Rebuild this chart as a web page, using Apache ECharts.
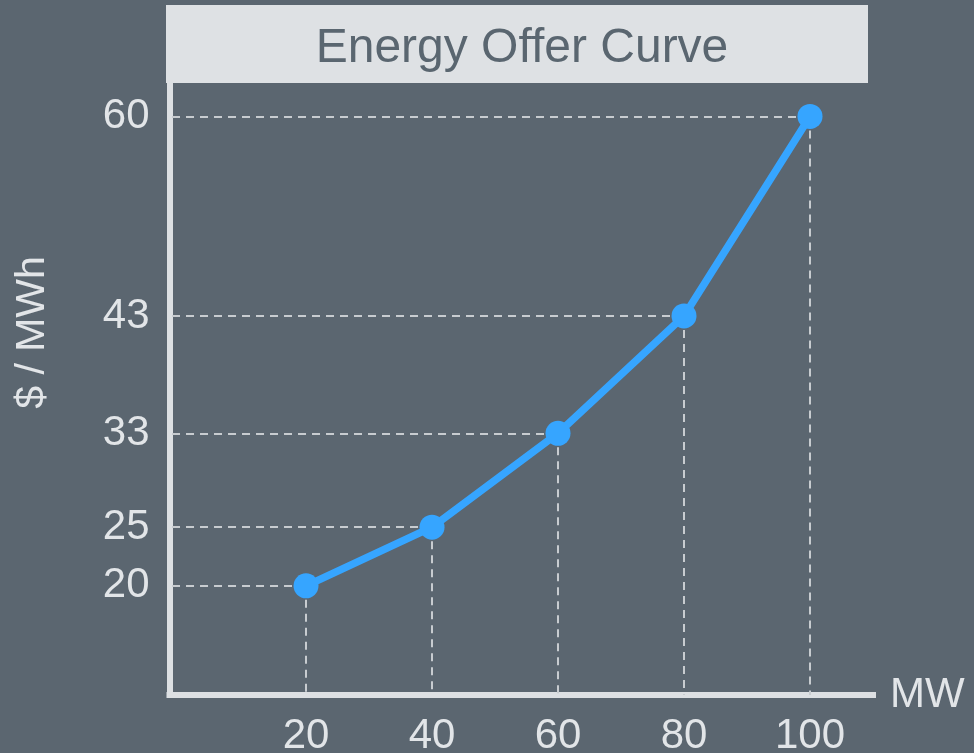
<!DOCTYPE html>
<html>
<head>
<meta charset="utf-8">
<script src="https://cdn.jsdelivr.net/npm/echarts@6/dist/echarts.min.js"></script>
<style>
html,body{margin:0;padding:0;background:#5b6670;}
#c{width:974px;height:753px;}
</style>
</head>
<body>
<div id="c"></div>
<script>
// Data
const titleText = 'Energy Offer Curve';
const xName = 'MW';
const yName = '$ / MWh';
const mw = [20, 40, 60, 80, 100];
const price = [20, 25, 33, 43, 60];

const xMin = -1.67, xMax = 110;
const yMin = 10.7, yMax = 62.85;

const labelColor = '#e2e5e8';
const font = 'Liberation Sans, Arial, sans-serif';

const seriesData = mw.map((x, i) => [x, price[i]]);
const dropLines = [];
mw.forEach((x, i) => {
  dropLines.push([{ coord: [x, price[i]] }, { coord: [xMin, price[i]] }]);
  dropLines.push([{ coord: [x, price[i]] }, { coord: [x, yMin] }]);
});

const chart = echarts.init(document.getElementById('c'), null, { renderer: 'canvas' });
chart.setOption({
  backgroundColor: '#5b6670',
  animation: false,
  graphic: [{
    type: 'rect', z: 0,
    shape: { x: 166, y: 5, width: 702, height: 78 },
    style: { fill: '#dee1e4' }
  }],
  title: {
    text: titleText,
    left: 517, top: 20,
    textAlign: 'center',
    textStyle: { color: '#5a6670', fontSize: 48, fontWeight: 'normal', fontFamily: font }
  },
  grid: { left: 169.5, right: 101, top: 83, bottom: 58, containLabel: false, outerBoundsMode: 'none' },
  xAxis: {
    type: 'value', min: xMin, max: xMax,
    name: xName, nameLocation: 'end', nameGap: 17,
    nameTextStyle: { color: labelColor, fontSize: 42, fontFamily: font, verticalAlign: 'middle', padding: [0, 0, 6, 0] },
    axisLine: { show: true, onZero: false, lineStyle: { color: '#dde0e3', width: 6, cap: 'square' } },
    axisTick: { show: false },
    splitLine: { show: false },
    axisLabel: { customValues: mw, color: labelColor, fontSize: 42, fontFamily: font, margin: 20 }
  },
  yAxis: {
    type: 'value', min: yMin, max: yMax,
    name: yName, nameLocation: 'middle', nameRotate: 90, nameGap: 116,
    nameTextStyle: { color: labelColor, fontSize: 41, fontFamily: font, padding: [0, 0, 0, 113] },
    axisLine: { show: true, onZero: false, lineStyle: { color: '#dde0e3', width: 6, cap: 'square' } },
    axisTick: { show: false },
    splitLine: { show: false },
    axisLabel: { customValues: price, color: labelColor, fontSize: 42, fontFamily: font, margin: 20 }
  },
  series: [{
    type: 'line',
    data: seriesData,
    symbol: 'circle',
    symbolSize: 25,
    lineStyle: { color: '#36a5ff', width: 7.5 },
    itemStyle: { color: '#36a5ff' },
    z: 3,
    markLine: {
      silent: true, z: 1,
      symbol: ['none', 'none'],
      label: { show: false },
      lineStyle: { type: [8, 6], color: '#c8ccd0', width: 2 },
      data: dropLines
    }
  }]
});
</script>
</body>
</html>
